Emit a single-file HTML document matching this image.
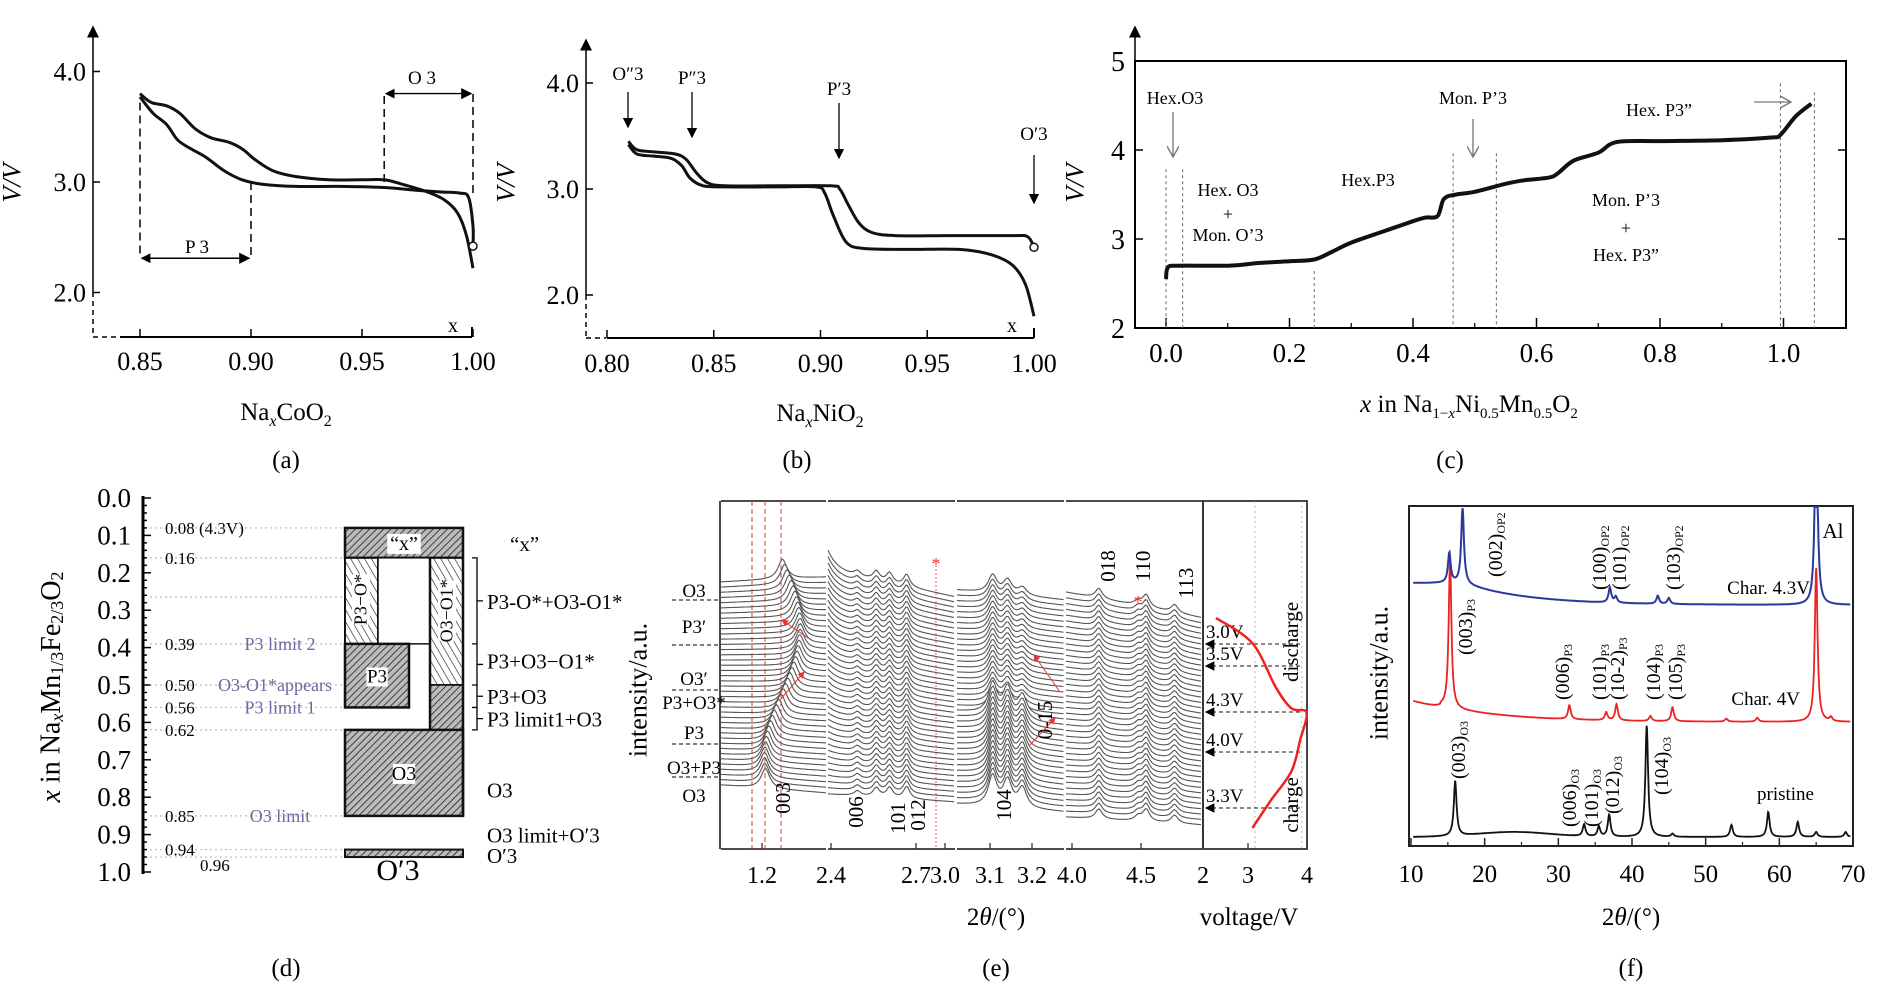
<!DOCTYPE html>
<html><head><meta charset="utf-8">
<style>
html,body{margin:0;padding:0;background:#fff;}
svg{display:block;font-family:"Liberation Serif",serif;}
</style></head>
<body>
<svg id="fig" width="1890" height="992" viewBox="0 0 1890 992" xmlns="http://www.w3.org/2000/svg">
<defs>
<pattern id="hatch" width="5" height="5" patternUnits="userSpaceOnUse" patternTransform="rotate(45)">
<rect width="5" height="5" fill="#bbb"/><line x1="0" y1="0" x2="0" y2="5" stroke="#222" stroke-width="1.6"/></pattern>
<pattern id="hatch2" width="6" height="6" patternUnits="userSpaceOnUse" patternTransform="rotate(-30)">
<rect width="6" height="6" fill="#fff"/><line x1="0" y1="0" x2="0" y2="6" stroke="#333" stroke-width="1.4"/></pattern>
<marker id="ah" markerWidth="8" markerHeight="8" refX="7" refY="4" orient="auto"><path d="M0,0 L8,4 L0,8 z" fill="#000"/></marker>
<marker id="ahg" markerWidth="10" markerHeight="10" refX="9" refY="5" orient="auto"><path d="M0,0 L9,5 L0,10" fill="none" stroke="#777" stroke-width="1.2"/></marker>
<marker id="ahr" markerWidth="7" markerHeight="7" refX="6" refY="3.5" orient="auto"><path d="M0,0 L7,3.5 L0,7 z" fill="#e33"/></marker>
<marker id="ahd" markerWidth="7" markerHeight="7" refX="1" refY="3.5" orient="auto"><path d="M7,0 L0,3.5 L7,7 z" fill="#000"/></marker>
</defs>

<!-- ============ Panel (a) static ============ -->
<g font-size="24">
<line x1="93" y1="337" x2="93" y2="27" stroke="#000" stroke-width="1.5" marker-end="url(#ah)"/>
<line x1="93" y1="292" x2="93" y2="337" stroke="#fff" stroke-width="3"/>
<line x1="93" y1="292" x2="93" y2="337" stroke="#000" stroke-width="1.5" stroke-dasharray="5,4"/>
<line x1="93" y1="337" x2="125" y2="337" stroke="#000" stroke-width="1.5" stroke-dasharray="5,4"/>
<line x1="120" y1="337" x2="472" y2="337" stroke="#000" stroke-width="2"/>
<line x1="472" y1="337" x2="472" y2="327" stroke="#000" stroke-width="2"/>
<text x="12" y="183" font-style="italic" font-size="26" transform="rotate(-90 12 183)" text-anchor="middle" dominant-baseline="central">V/V</text>
<text x="286" y="420" text-anchor="middle" font-size="25">Na<tspan font-style="italic" font-size="16" dy="6">x</tspan><tspan dy="-6">CoO</tspan><tspan font-size="16" dy="6">2</tspan></text>
<text x="286" y="468" text-anchor="middle" font-size="25">(a)</text>
<text x="422" y="84" text-anchor="middle" font-size="19">O 3</text>
<text x="197" y="253" text-anchor="middle" font-size="19">P 3</text>
<text x="453" y="332" text-anchor="middle" font-size="20">x</text>
</g>
<g id="ga"></g>

<!-- ============ Panel (b) static ============ -->
<g font-size="24">
<line x1="586" y1="338" x2="586" y2="40" stroke="#000" stroke-width="1.5" marker-end="url(#ah)"/>
<line x1="586" y1="295" x2="586" y2="338" stroke="#fff" stroke-width="3"/>
<line x1="586" y1="295" x2="586" y2="338" stroke="#000" stroke-width="1.5" stroke-dasharray="5,4"/>
<line x1="586" y1="338" x2="606" y2="338" stroke="#000" stroke-width="1.5" stroke-dasharray="5,4"/>
<line x1="607" y1="338" x2="1034" y2="338" stroke="#000" stroke-width="2"/>
<line x1="1034" y1="338" x2="1034" y2="328" stroke="#000" stroke-width="2"/>
<text x="506" y="183" font-style="italic" font-size="26" transform="rotate(-90 506 183)" text-anchor="middle" dominant-baseline="central">V/V</text>
<text x="820" y="421" text-anchor="middle" font-size="25">Na<tspan font-style="italic" font-size="16" dy="6">x</tspan><tspan dy="-6">NiO</tspan><tspan font-size="16" dy="6">2</tspan></text>
<text x="797" y="468" text-anchor="middle" font-size="25">(b)</text>
<text x="628" y="80" text-anchor="middle" font-size="19">O″3</text>
<line x1="628" y1="92" x2="628" y2="127" stroke="#000" stroke-width="1.3" marker-end="url(#ah)"/>
<text x="692" y="84" text-anchor="middle" font-size="19">P″3</text>
<line x1="692" y1="92" x2="692" y2="137" stroke="#000" stroke-width="1.3" marker-end="url(#ah)"/>
<text x="839" y="95" text-anchor="middle" font-size="19">P′3</text>
<line x1="839" y1="103" x2="839" y2="158" stroke="#000" stroke-width="1.3" marker-end="url(#ah)"/>
<text x="1034" y="140" text-anchor="middle" font-size="19">O′3</text>
<line x1="1034" y1="155" x2="1034" y2="203" stroke="#000" stroke-width="1.3" marker-end="url(#ah)"/>
<text x="1012" y="332" text-anchor="middle" font-size="20">x</text>
</g>
<g id="gb"></g>

<!-- ============ Panel (c) static ============ -->
<g font-size="24">
<rect x="1135" y="61" width="711" height="267" fill="none" stroke="#000" stroke-width="2"/>
<line x1="1135" y1="61" x2="1135" y2="27" stroke="#000" stroke-width="1.5" marker-end="url(#ah)"/>
<text x="1075" y="183" font-style="italic" font-size="26" transform="rotate(-90 1075 183)" text-anchor="middle" dominant-baseline="central">V/V</text>
<text x="1469" y="412" text-anchor="middle" font-size="25"><tspan font-style="italic">x</tspan> in Na<tspan font-size="15" dy="6">1−<tspan font-style="italic">x</tspan></tspan><tspan dy="-6">Ni</tspan><tspan font-size="15" dy="6">0.5</tspan><tspan dy="-6">Mn</tspan><tspan font-size="15" dy="6">0.5</tspan><tspan dy="-6">O</tspan><tspan font-size="15" dy="6">2</tspan></text>
<text x="1450" y="468" text-anchor="middle" font-size="25">(c)</text>
<g font-size="18" text-anchor="middle">
<text x="1175" y="104">Hex.O3</text>
<line x1="1173" y1="112" x2="1173" y2="157" stroke="#666" stroke-width="1.2" marker-end="url(#ahg)"/>
<text x="1228" y="196">Hex. O3</text>
<text x="1228" y="220">+</text>
<text x="1228" y="241">Mon. O’3</text>
<text x="1368" y="186">Hex.P3</text>
<text x="1473" y="104">Mon. P’3</text>
<line x1="1473" y1="119" x2="1473" y2="157" stroke="#666" stroke-width="1.2" marker-end="url(#ahg)"/>
<text x="1659" y="116">Hex. P3”</text>
<text x="1626" y="206">Mon. P’3</text>
<text x="1626" y="234">+</text>
<text x="1626" y="261">Hex. P3”</text>
<line x1="1754" y1="102" x2="1791" y2="102" stroke="#777" stroke-width="1.2" marker-end="url(#ahg)"/>
</g>
</g>
<g id="gc"></g>

<!-- ============ Panel (d) ============ -->
<g id="gd">
<text x="51" y="687" font-size="28" transform="rotate(-90 51 687)" text-anchor="middle" dominant-baseline="central"><tspan font-style="italic">x</tspan> in Na<tspan font-style="italic" font-size="18" dy="6">x</tspan><tspan dy="-6">Mn</tspan><tspan font-size="18" dy="6">1/3</tspan><tspan dy="-6">Fe</tspan><tspan font-size="18" dy="6">2/3</tspan><tspan dy="-6">O</tspan><tspan font-size="18" dy="6">2</tspan></text>
<text x="286" y="976" text-anchor="middle" font-size="25">(d)</text>
</g>

<!-- ============ Panel (e) ============ -->
<g id="ge"></g>
<g>
<text x="638" y="690" font-size="26" transform="rotate(-90 638 690)" text-anchor="middle" dominant-baseline="central">intensity/a.u.</text>
<text x="996" y="925" text-anchor="middle" font-size="25">2<tspan font-style="italic">θ</tspan>/(°)</text>
<text x="1249" y="925" text-anchor="middle" font-size="25">voltage/V</text>
<text x="996" y="976" text-anchor="middle" font-size="25">(e)</text>
</g>

<!-- ============ Panel (f) ============ -->
<g id="gf"></g>
<g>
<text x="1379" y="673" font-size="26" transform="rotate(-90 1379 673)" text-anchor="middle" dominant-baseline="central">intensity/a.u.</text>
<text x="1631" y="925" text-anchor="middle" font-size="25">2<tspan font-style="italic">θ</tspan>/(°)</text>
<text x="1631" y="976" text-anchor="middle" font-size="25">(f)</text>
</g>
</svg>

<script>
var NS="http://www.w3.org/2000/svg";
// ---------------- data ----------------
// Panel a: Na_xCoO2
var aTicksX=[0.85,0.90,0.95,1.00];
var aTickLabelsX=["0.85","0.90","0.95","1.00"];
var aTicksY=[2.0,3.0,4.0];
var aTickLabelsY=["2.0","3.0","4.0"];
var aUpperX=[0.850,0.855,0.862,0.868,0.875,0.882,0.890,0.896,0.902,0.910,0.920,0.935,0.950,0.960,0.968,0.978,0.987,0.993,0.997,1.000];
var aUpperV=[3.80,3.72,3.69,3.62,3.48,3.40,3.36,3.30,3.20,3.10,3.05,3.02,3.02,3.02,2.98,2.92,2.84,2.72,2.52,2.22];
var aLowerX=[0.850,0.856,0.862,0.867,0.873,0.880,0.888,0.896,0.905,0.920,0.940,0.960,0.972,0.985,0.994,0.998,1.000,1.000];
var aLowerV=[3.77,3.62,3.52,3.38,3.30,3.22,3.10,3.02,2.98,2.96,2.96,2.95,2.93,2.91,2.90,2.86,2.60,2.42];
// Panel b: Na_xNiO2
var bTicksX=[0.80,0.85,0.90,0.95,1.00];
var bTickLabelsX=["0.80","0.85","0.90","0.95","1.00"];
var bTicksY=[2.0,3.0,4.0];
var bTickLabelsY=["2.0","3.0","4.0"];
var bUpperX=[0.810,0.814,0.822,0.832,0.837,0.842,0.847,0.855,0.880,0.905,0.909,0.913,0.918,0.924,0.935,0.960,0.990,0.997,1.000];
var bUpperV=[3.45,3.37,3.35,3.33,3.28,3.15,3.06,3.03,3.03,3.03,3.00,2.85,2.68,2.59,2.56,2.56,2.56,2.55,2.45];
var bLowerX=[0.810,0.814,0.822,0.830,0.835,0.839,0.845,0.855,0.880,0.898,0.902,0.906,0.912,0.920,0.940,0.965,0.980,0.990,0.996,1.000];
var bLowerV=[3.42,3.33,3.31,3.29,3.22,3.10,3.03,3.02,3.02,3.02,2.96,2.75,2.50,2.44,2.43,2.43,2.38,2.28,2.10,1.80];
// Panel c: Na1-xNi0.5Mn0.5O2
var cTicksX=[0,0.2,0.4,0.6,0.8,1.0];
var cTickLabelsX=["0.0","0.2","0.4","0.6","0.8","1.0"];
var cTicksY=[2,3,4,5];
var cTickLabelsY=["2","3","4","5"];
var cX=[0,0.003,0.02,0.1,0.15,0.2,0.24,0.27,0.3,0.35,0.4,0.42,0.44,0.45,0.47,0.5,0.55,0.58,0.62,0.635,0.66,0.7,0.73,0.8,0.9,0.98,0.995,1.02,1.045];
var cV=[2.55,2.68,2.70,2.70,2.73,2.75,2.77,2.86,2.96,3.08,3.20,3.24,3.26,3.45,3.50,3.53,3.62,3.66,3.69,3.74,3.88,3.97,4.09,4.10,4.11,4.14,4.17,4.38,4.52];
var cDividers=[0,0.027,0.24,0.465,0.535,0.995,1.05];
var cDividerTops=[2.66,2.66,2.64,2.84,2.84,4.75,4.65];
// Panel d: phase diagram
var dTickLabels=["0.0","0.1","0.2","0.3","0.4","0.5","0.6","0.7","0.8","0.9","1.0"];
var dGuideX=[0.08,0.16,0.265,0.39,0.50,0.56,0.62,0.85,0.94,0.96];
var dValueLabels=["0.08 (4.3V)","0.16","","0.39","0.50","0.56","0.62","0.85","0.94","0.96"];
// Panel e: in-situ XRD waterfall
var eTraceCount=40;
var eSeg1Peaks=[1.32];
var eSeg2Peaks=[2.53,2.63,2.70,2.79];
var eSeg3Peaks=[3.10,3.135,3.17];
var eSeg4Peaks=[4.18,4.47,4.53,4.74];
var eVoltV=[2.95,3.3,3.7,3.87,3.99,3.7,3.4,2.95,2.25];
var eVoltT=[0,0.13,0.27,0.42,0.55,0.57,0.67,0.88,1.0];
var eVoltMarks=[3.0,3.5,4.3,4.0,3.3];
var eVoltMarkY=[644,666,712,752,808];
// Panel f: ex-situ XRD
var fTicks=[10,20,30,40,50,60,70];
var fBluePos=[15.2,17.0,37.0,37.8,43.5,45.0,65.0];
var fBlueAmp=[30,75,15,6,8,6,200];
var fRedPos=[15.3,31.5,36.5,37.9,42.5,45.5,52.8,57.0,65.0,67.0];
var fRedAmp=[150,14,8,16,5,14,3,4,155,4];
var fBlackPos=[16.0,33.5,35.5,36.9,42.0,45.5,53.5,58.5,62.5,65.0,69.0];
var fBlackAmp=[55,12,10,22,112,3,12,25,15,5,5];

// ---------------- helpers ----------------
function mk(parent,tag,attrs){var e=document.createElementNS(NS,tag);for(var k in attrs)e.setAttribute(k,attrs[k]);parent.appendChild(e);return e;}
function txt(parent,x,y,s,size,anchor,name){var t=mk(parent,"text",{x:x,y:y,"font-size":size,"text-anchor":anchor||"middle"});t.textContent=s;


return t;}
function smooth(pts){var d="M"+pts[0][0].toFixed(1)+","+pts[0][1].toFixed(1);
for(var i=0;i<pts.length-1;i++){var p0=pts[i-1]||pts[i],p1=pts[i],p2=pts[i+1],p3=pts[i+2]||p2;
var c1x=p1[0]+(p2[0]-p0[0])/6,c1y=p1[1]+(p2[1]-p0[1])/6,c2x=p2[0]-(p3[0]-p1[0])/6,c2y=p2[1]-(p3[1]-p1[1])/6;
d+=" C"+c1x.toFixed(1)+","+c1y.toFixed(1)+" "+c2x.toFixed(1)+","+c2y.toFixed(1)+" "+p2[0].toFixed(1)+","+p2[1].toFixed(1);}return d;}
function poly(pts){return "M"+pts.map(function(p){return p[0].toFixed(1)+","+p[1].toFixed(1);}).join(" L");}

// ---------------- panel a ----------------
(function(){var g=document.getElementById("ga");
function xa(v){return 140+(v-0.85)/0.05*111;} function ya(V){return 182-(V-3)*110.5;}
aTicksX.forEach(function(v,i){mk(g,"line",{x1:xa(v),y1:337,x2:xa(v),y2:329,stroke:"#000","stroke-width":1.5});
txt(g,xa(v),370,aTickLabelsX[i],26,"middle","a-x-tick-label");});
aTicksY.forEach(function(v,i){mk(g,"line",{x1:93,y1:ya(v),x2:100,y2:ya(v),stroke:"#000","stroke-width":1.5});
txt(g,86,ya(v)+9,aTickLabelsY[i],26,"end","a-y-tick-label");});
var dash={stroke:"#000","stroke-width":1.5,"stroke-dasharray":"8,5",fill:"none"};
var l;
l=mk(g,"path",Object.assign({d:"M"+xa(0.85)+","+ya(3.72)+" V"+ya(2.31)+" M"+xa(0.90)+","+ya(3.0)+" V"+ya(2.31)+" M"+xa(0.96)+","+ya(3.0)+" V"+ya(3.8)+" M"+xa(1.0)+","+ya(2.9)+" V"+ya(3.8)},dash));


l=mk(g,"line",{x1:xa(0.85)+2,y1:ya(2.31),x2:xa(0.90)-2,y2:ya(2.31),stroke:"#000","stroke-width":1.4,"marker-end":"url(#ah)","marker-start":"url(#ahd)"});


l=mk(g,"line",{x1:xa(0.96)+2,y1:ya(3.8),x2:xa(1.0)-2,y2:ya(3.8),stroke:"#000","stroke-width":1.4,"marker-end":"url(#ah)","marker-start":"url(#ahd)"});


var up=aUpperX.map(function(x,i){return [xa(x),ya(aUpperV[i])];});
l=mk(g,"path",{d:smooth(up),fill:"none",stroke:"#111","stroke-width":3});


var lo=aLowerX.map(function(x,i){return [xa(x),ya(aLowerV[i])];});
l=mk(g,"path",{d:smooth(lo),fill:"none",stroke:"#111","stroke-width":3});


l=mk(g,"circle",{cx:xa(1.0),cy:ya(2.42),r:4,fill:"#fff",stroke:"#111","stroke-width":1.5});


})();

// ---------------- panel b ----------------
(function(){var g=document.getElementById("gb");
function xb(v){return 607+(v-0.8)/0.05*106.75;} function yb(V){return 189-(V-3)*106;}
bTicksX.forEach(function(v,i){mk(g,"line",{x1:xb(v),y1:338,x2:xb(v),y2:330,stroke:"#000","stroke-width":1.5});
txt(g,xb(v),372,bTickLabelsX[i],26,"middle","b-x-tick-label");});
bTicksY.forEach(function(v,i){mk(g,"line",{x1:586,y1:yb(v),x2:593,y2:yb(v),stroke:"#000","stroke-width":1.5});
txt(g,579,yb(v)+9,bTickLabelsY[i],26,"end","b-y-tick-label");});
var l;
var up=bUpperX.map(function(x,i){return [xb(x),yb(bUpperV[i])];});
l=mk(g,"path",{d:smooth(up),fill:"none",stroke:"#111","stroke-width":3});


var lo=bLowerX.map(function(x,i){return [xb(x),yb(bLowerV[i])];});
l=mk(g,"path",{d:smooth(lo),fill:"none",stroke:"#111","stroke-width":3});


l=mk(g,"circle",{cx:xb(1.0),cy:yb(2.45),r:4,fill:"#fff",stroke:"#111","stroke-width":1.5});


})();

// ---------------- panel c ----------------
(function(){var g=document.getElementById("gc");
function xc(v){return 1166+v/0.2*123.5;} function yc(V){return 328-(V-2)*89;}
cTicksX.forEach(function(v,i){mk(g,"line",{x1:xc(v),y1:328,x2:xc(v),y2:318,stroke:"#000","stroke-width":1.5});
if(i<cTicksX.length-1)mk(g,"line",{x1:xc(v+0.1),y1:328,x2:xc(v+0.1),y2:323,stroke:"#000","stroke-width":1.2});
txt(g,xc(v),362,cTickLabelsX[i],27,"middle","c-x-tick-label");});
cTicksY.forEach(function(v,i){mk(g,"line",{x1:1135,y1:yc(v),x2:1143,y2:yc(v),stroke:"#000","stroke-width":1.5});
mk(g,"line",{x1:1846,y1:yc(v),x2:1838,y2:yc(v),stroke:"#000","stroke-width":1.5});
txt(g,1125,yc(v)+10,cTickLabelsY[i],28,"end","c-y-tick-label");});
cDividers.forEach(function(v,i){var l=mk(g,"line",{x1:xc(v),y1:yc(cDividerTops[i])-(i<5&&i!=2?100:0),x2:xc(v),y2:328,stroke:"#666","stroke-width":1,"stroke-dasharray":"3,3"});

});
var pts=cX.map(function(x,i){return [xc(x),yc(cV[i])];});
var l=mk(g,"path",{d:smooth(pts),fill:"none",stroke:"#111","stroke-width":4});


})();

// ---------------- panel d ----------------
(function(){var g=document.getElementById("gd");
function yd(v){return 498+v*374;}
var l=mk(g,"line",{x1:143,y1:yd(0)-2,x2:143,y2:yd(1)+2,stroke:"#000","stroke-width":3});


for(var k=0;k<=50;k++){var v=k/50;mk(g,"line",{x1:143,y1:yd(v),x2:143+(k%5==0?8:4),y2:yd(v),stroke:"#000","stroke-width":1.5});}
dTickLabels.forEach(function(s,i){txt(g,131,yd(i/10)+9,s,27,"end","d-y-tick-label");});
dGuideX.forEach(function(v,i){var l=mk(g,"line",{x1:150,y1:yd(v),x2:345,y2:yd(v),stroke:"#bbb","stroke-width":1.2,"stroke-dasharray":"2,3"});


if(dValueLabels[i]){var t=txt(g,i==9?200:165,yd(v)+(i==9?14:6),dValueLabels[i],17,"start","d-value-label");}});
var purple=[["P3 limit 2",0.39,280],["O3-O1*appears",0.50,275],["P3 limit 1",0.56,280],["O3 limit",0.85,280]];
purple.forEach(function(p){var t=txt(g,p[2],yd(p[1])+6,p[0],18,"middle","d-limit-label");t.setAttribute("fill","#6a6aa0");});
function rect(x,y1,w,y2,fill,name,sw){var r=mk(g,"rect",{x:x,y:yd(y1),width:w,height:yd(y2)-yd(y1),fill:fill,stroke:"#111","stroke-width":sw||2.5});

return r;}
rect(345,0.08,118,0.16,"url(#hatch)","d-x-phase-block");
rect(345,0.16,33,0.39,"url(#hatch2)","d-p3-o-block",2);
rect(378,0.16,52,0.39,"#fff","d-empty-block",1.5);
rect(430,0.16,33,0.50,"url(#hatch2)","d-o3-o1-block",2);
rect(430,0.50,33,0.62,"url(#hatch)","d-o3-o1-lower-block",1.5);
rect(345,0.39,64,0.56,"url(#hatch)","d-p3-block");
rect(345,0.62,118,0.85,"url(#hatch)","d-o3-block");
rect(345,0.94,118,0.96,"url(#hatch)","d-o3p-block",2);
mk(g,"path",{d:"M430,"+yd(0.62)+" V"+yd(0.16)+" M463,"+yd(0.16)+" V"+yd(0.85),stroke:"#111","stroke-width":2.5,fill:"none"});
function wl(x,y,s,size,name,rot){var b=mk(g,"rect",{x:x-size*s.length*0.28,y:y-size*0.8,width:size*s.length*0.56,height:size,fill:"#fff"});
if(rot)b.setAttribute("transform","rotate(-90 "+x+" "+(y-size*0.3)+")");
var t=txt(g,x,y,s,size,"middle",name);if(rot)t.setAttribute("transform","rotate(-90 "+x+" "+(y-size*0.3)+")");}
wl(404,yd(0.12)+7,"“x”",20,"d-x-phase-label");
wl(361,yd(0.27)+6,"P3−O*",18,"d-p3-o-label",true);
wl(447,yd(0.30)+6,"O3−O1*",18,"d-o3-o1-label",true);
wl(377,yd(0.475)+7,"P3",19,"d-p3-label");
wl(404,yd(0.735)+7,"O3",20,"d-o3-label");
txt(g,398,yd(1.0)+8,"O′3",30,"middle","d-o3p-bottom-label");
var right=[["“x”",0.12,510],["P3-O*+O3-O1*",0.275,487],["P3+O3−O1*",0.435,487],["P3+O3",0.53,487],["P3 limit1+O3",0.59,487],["O3",0.78,487],["O3 limit+O′3",0.90,487],["O′3",0.955,487]];
right.forEach(function(r){txt(g,r[2],yd(r[1])+8,r[0],21,"start","d-phase-region-label");});
var br=mk(g,"path",{d:"M472,"+yd(0.16)+" h5 V"+yd(0.62)+" h-5 M472,"+yd(0.39)+" h5 M472,"+yd(0.50)+" h5 M472,"+yd(0.56)+" h5 M477,"+yd(0.275)+" h6 M477,"+yd(0.445)+" h6 M477,"+yd(0.53)+" h6 M477,"+yd(0.59)+" h6",stroke:"#000","stroke-width":1.3,fill:"none"});


})();

// ---------------- panel e ----------------
(function(){var g=document.getElementById("ge");
var segs=[{x0:720,x1:827,a:0.9,b:1.62,peaks:eSeg1Peaks,top0:582,top1:577},
{x0:827,x1:956,a:2.37,b:3.05,peaks:eSeg2Peaks,top0:570,top1:597},
{x0:956,x1:1065,a:3.014,b:3.27,peaks:eSeg3Peaks,top0:590,top1:600},
{x0:1065,x1:1203,a:3.93,b:4.95,peaks:eSeg4Peaks,top0:592,top1:618}];
var bottomY=[793,802,812,825];
segs.forEach(function(s,si){
function xs(v){return s.x0+(v-s.a)/(s.b-s.a)*(s.x1-s.x0);}
for(var i=0;i<eTraceCount;i++){var f=i/(eTraceCount-1);var pts=[];
for(var xp=s.x0+1;xp<=s.x1-1;xp+=1.5){var t=(xp-s.x0)/(s.x1-s.x0);
var base=(s.top0*(1-t)+s.top1*t)*(1-f)+(bottomY[si]-(1-t)*8)*f;var y=base;
var v=s.a+t*(s.b-s.a);
s.peaks.forEach(function(p,pi){var pos=p,amp=10,w=(s.b-s.a)*0.02;
if(si==0){pos=p+0.12*Math.sin(f*Math.PI*1.6);amp=20;w=0.035;}
if(si==1){amp=[5,9,10,12][pi];w=0.02;}
if(si==2){amp=[18,14,8][pi]+(f>0.55?12:0);w=0.012;}
if(si==3){amp=[10,5,12,8][pi];w=0.03;}
y-=amp/(1+Math.pow((v-pos)/w,2));});
if(si==1)y-=22*Math.exp(-(v-s.a)/0.05)*(1-f);
pts.push([xp,y]);}
var d=poly(pts)+" L"+(s.x1-1)+",849 L"+(s.x0+1)+",849 Z";
mk(g,"path",{d:d,fill:"#fff",stroke:"none"});
var l=mk(g,"path",{d:poly(pts),fill:"none",stroke:"#555","stroke-width":1.1});

}
mk(g,"line",{x1:s.x0+1,y1:501,x2:s.x1-1,y2:501,stroke:"#333","stroke-width":1.8});
mk(g,"line",{x1:s.x0+1,y1:849,x2:s.x1-1,y2:849,stroke:"#333","stroke-width":1.8});
});
var tl=[["1.2",762],["2.4",831],["2.7",916],["3.0",945],["3.1",990],["3.2",1032],["4.0",1072],["4.5",1141],["2",1203],["3",1248],["4",1307]];
tl.forEach(function(t){mk(g,"line",{x1:t[1],y1:849,x2:t[1],y2:843,stroke:"#333","stroke-width":1.3});
txt(g,t[1],883,t[0],24,"middle","e-x-tick-label");});
mk(g,"line",{x1:720,y1:501,x2:720,y2:849,stroke:"#333","stroke-width":1.8});
mk(g,"line",{x1:1203,y1:501,x2:1203,y2:849,stroke:"#333","stroke-width":1.8});
mk(g,"rect",{x:1203,y:501,width:104,height:348,fill:"none",stroke:"#333","stroke-width":1.8});
[752,765,781].forEach(function(x){mk(g,"line",{x1:x,y1:501,x2:x,y2:849,stroke:"#e33","stroke-width":1,"stroke-dasharray":"5,3"});});
mk(g,"line",{x1:936,y1:565,x2:936,y2:849,stroke:"#e33","stroke-width":0.8,"stroke-dasharray":"2,2"});
[[936,562],[1138,600]].forEach(function(p){var t=txt(g,p[0],p[1]+8,"*",18,"middle","e-impurity-star");t.setAttribute("fill","#e33");});
var ll=[["O3",590,600],["P3′",626,645],["O3′",678,690],["P3+O3*",702,0],["P3",732,744],["O3+P3",767,777],["O3",795,0]];
ll.forEach(function(p){txt(g,694,p[1]+7,p[0],19,"middle","e-phase-label");
if(p[2])mk(g,"line",{x1:672,y1:p[2],x2:720,y2:p[2],stroke:"#333","stroke-width":1.3,"stroke-dasharray":"4,3"});});
function rt(x,y,s,name){var t=txt(g,x,y,s,21,"middle",name);t.setAttribute("transform","rotate(-90 "+x+" "+y+")");t.setAttribute("dominant-baseline","central");}
rt(783,798,"003","e-peak-003");rt(856,812,"006","e-peak-006");rt(898,818,"101","e-peak-101");rt(918,815,"012","e-peak-012");
rt(1004,805,"104","e-peak-104");rt(1108,566,"018","e-peak-018");rt(1143,566,"110","e-peak-110");rt(1186,583,"113","e-peak-113");rt(1045,720,"0-15","e-peak-0-15");
[[808,638,782,620],[780,700,804,672],[1060,692,1034,655],[1030,745,1055,718]].forEach(function(a){mk(g,"line",{x1:a[0],y1:a[1],x2:a[2],y2:a[3],stroke:"#e33","stroke-width":1,"marker-end":"url(#ahr)"});});
function xv(V){return 1203+(V-2)*52;}
[3,3.9].forEach(function(V){mk(g,"line",{x1:xv(V),y1:501,x2:xv(V),y2:849,stroke:"#aaa","stroke-width":0.8,"stroke-dasharray":"2,3"});});
eVoltMarks.forEach(function(m,i){var y=eVoltMarkY[i];mk(g,"line",{x1:1300,y1:y,x2:1206,y2:y,stroke:"#444","stroke-width":1.2,"stroke-dasharray":"4,3","marker-end":"url(#ah)"});
txt(g,1206,y-6,m.toFixed(1)+"V",19,"start","e-voltage-mark-label");});
var vp=eVoltV.map(function(V,i){return [xv(V),828-eVoltT[i]*210];});
var l=mk(g,"path",{d:smooth(vp),fill:"none",stroke:"#e22","stroke-width":2.5});


rt(1291,642,"discharge","e-discharge-label");rt(1291,805,"charge","e-charge-label");
})();

// ---------------- panel f ----------------
(function(){var g=document.getElementById("gf");
function xf(v){return 1411+(v-10)/60*442;}
var l=mk(g,"rect",{x:1409,y:506,width:444,height:340,fill:"none",stroke:"#222","stroke-width":2});


fTicks.forEach(function(v){mk(g,"line",{x1:xf(v),y1:846,x2:xf(v),y2:838,stroke:"#222","stroke-width":1.5});
if(v<70)mk(g,"line",{x1:xf(v+5),y1:846,x2:xf(v+5),y2:842,stroke:"#222","stroke-width":1.2});
txt(g,xf(v),882,String(v),25,"middle","f-x-tick-label");});
function spec(pos,amp,base,hump,color,name,w){var pts=[];
for(var t=10.3;t<=69.7;t+=0.06){var y=base+hump(t);for(var k=0;k<pos.length;k++){y-=amp[k]/(1+Math.pow((t-pos[k])/0.22,2));}
pts.push([xf(t),Math.max(507,y)]);}
var l=mk(g,"path",{d:poly(pts),fill:"none",stroke:color,"stroke-width":w||1.8});

}
spec(fBlackPos,fBlackAmp,837,function(t){return -5*Math.exp(-Math.pow((t-24)/7,2));},"#111","f-pristine-spectrum");
spec(fRedPos,fRedAmp,722,function(t){return -16*Math.exp(-(t-14)/10)*(t>14?1:0.9);},"#e22","f-char-4v-spectrum");
spec(fBluePos,fBlueAmp,605,function(t){return -22*Math.exp(-Math.max(0,t-17)/9);},"#2a3a9a","f-char-4.3v-spectrum",2);
function rt(x,y,s,sub,name){var t=mk(g,"text",{x:x,y:y,"font-size":20,transform:"rotate(-90 "+x+" "+y+")","text-anchor":"start","dominant-baseline":"central"});
t.textContent=s;var ts=mk(t,"tspan",{"font-size":12,dy:5});ts.textContent=sub;

}
rt(1496,577,"(002)","OP2","f-label-002-op2");rt(1600,590,"(100)","OP2","f-label-100-op2");rt(1620,590,"(101)","OP2","f-label-101-op2");rt(1674,590,"(103)","OP2","f-label-103-op2");
rt(1466,655,"(003)","P3","f-label-003-p3");rt(1563,700,"(006)","P3","f-label-006-p3");rt(1600,700,"(101)","P3","f-label-101-p3");rt(1618,700,"(10-2)","P3","f-label-10-2-p3");rt(1654,700,"(104)","P3","f-label-104-p3");rt(1676,700,"(105)","P3","f-label-105-p3");
rt(1459,779,"(003)","O3","f-label-003-o3");rt(1570,827,"(006)","O3","f-label-006-o3");rt(1592,827,"(101)","O3","f-label-101-o3");rt(1613,814,"(012)","O3","f-label-012-o3");rt(1662,795,"(104)","O3","f-label-104-o3");
txt(g,1810,594,"Char. 4.3V",19,"end","f-series-label-4.3v");
txt(g,1800,705,"Char. 4V",19,"end","f-series-label-4v");
txt(g,1814,800,"pristine",19,"end","f-series-label-pristine");
txt(g,1833,538,"Al",21,"middle","f-al-label");
})();
</script>
</body></html>
